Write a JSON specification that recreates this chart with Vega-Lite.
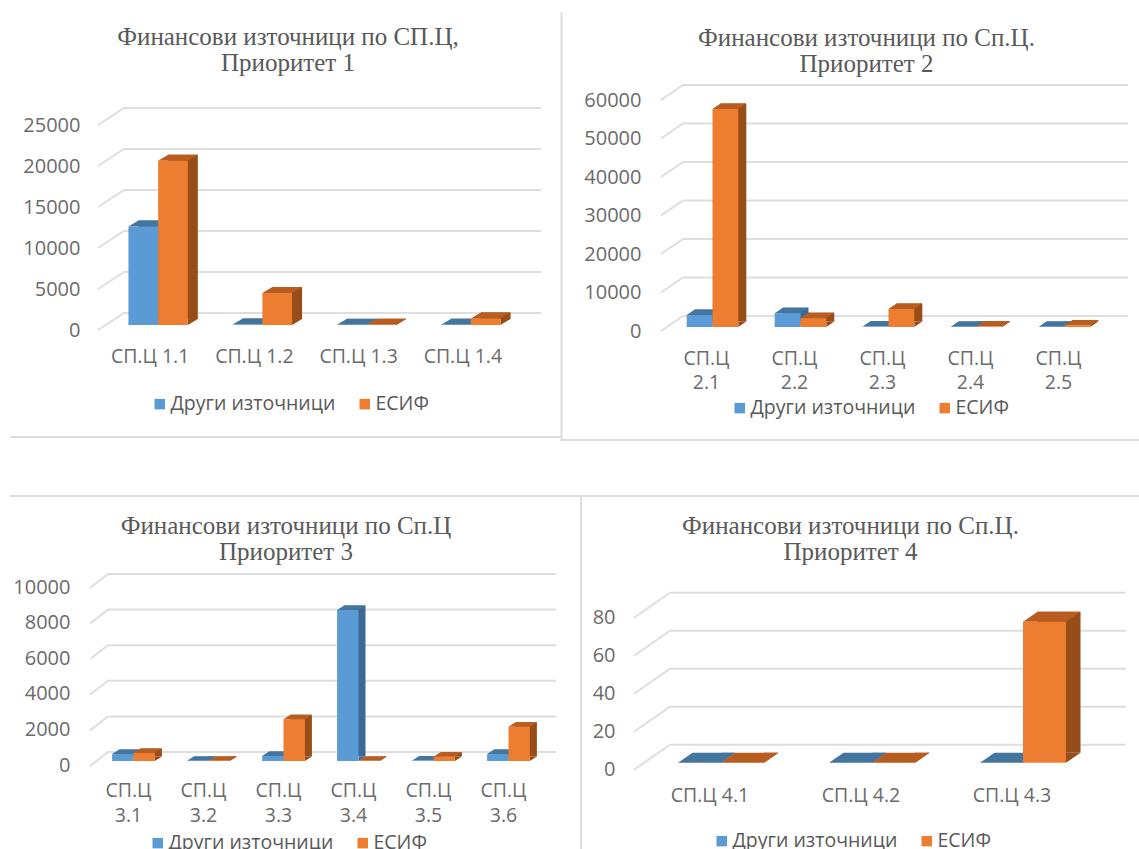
{"$schema":"https://vega.github.io/schema/vega-lite/v6.json","background":"white","padding":{"left":6,"top":8,"right":0,"bottom":0},"autosize":{"type":"pad"},"bounds":"flush","align":"all","columns":2,"spacing":{"column":86,"row":240},"resolve":{"scale":{"color":"independent"},"legend":{"color":"independent"}},"config":{"view":{"stroke":null},"font":"Open Sans","legend":{"orient":"none","columns":2,"direction":"horizontal","title":null,"symbolType":"square","symbolSize":110,"symbolOpacity":1,"labelFont":"Open Sans","labelFontSize":19.5,"labelColor":"#595959","columnPadding":19,"labelOffset":1,"labelLimit":400},"axis":{"domain":false,"ticks":false,"grid":false,"labelFont":"Open Sans","labelColor":"#6b6b6b","title":null,"labelOverlap":false}},
"concat":[
{"width":450,"height":240,"title":{"text":["Финансови източници по СП.Ц,","Приоритет 1"],"anchor":"middle","frame":"group","dx":-33,"offset":14,"font":"Liberation Serif","fontSize":25,"fontWeight":"normal","color":"#595959","lineHeight":26},
"layer":[
{"data":{"values":[{"tick":0},{"tick":5000},{"tick":10000},{"tick":15000},{"tick":20000},{"tick":25000}]},"mark":{"type":"point","shape":"M -223 5 L -197 -12 L 220 -12","size":4,"filled":false,"color":"#dedede","strokeWidth":2,"opacity":1},"encoding":{"y":{"field":"tick","type":"quantitative","title":null,"scale":{"domain":[0,25000],"range":[235,30],"nice":false},"axis":{"values":[0,5000,10000,15000,20000,25000],"labelFontSize":20,"labelPadding":16,"labelOffset":5,"format":"d","labelOverlap":false}}}},
{"data":{"values":[{"sp":"СП.Ц 1.1","source":"Други източници","value":12000},{"sp":"СП.Ц 1.1","source":"ЕСИФ","value":20030},{"sp":"СП.Ц 1.2","source":"Други източници","value":60},{"sp":"СП.Ц 1.2","source":"ЕСИФ","value":3900},{"sp":"СП.Ц 1.3","source":"Други източници","value":20},{"sp":"СП.Ц 1.3","source":"ЕСИФ","value":30},{"sp":"СП.Ц 1.4","source":"Други източници","value":40},{"sp":"СП.Ц 1.4","source":"ЕСИФ","value":800}]},
"encoding":{"x":{"field":"sp","type":"nominal","title":null,"scale":{"range":[10,427],"paddingInner":0,"paddingOuter":0},"axis":{"labelAngle":0,"labelFontSize":19.5,"labelPadding":17,"labelOffset":-8}},"y":{"field":"value","type":"quantitative","stack":null,"title":null,"axis":{"values":[0,5000,10000,15000,20000,25000],"labelFontSize":20,"labelPadding":16,"labelOffset":5,"format":"d","labelOverlap":false}}},
"layer":[
{"transform":[{"filter":"datum.source==='Други източници'"}],"layer":[
{"mark":{"type":"bar","width":29.7,"xOffset":-4.85,"yOffset":-6,"y2Offset":-6,"color":"#3c6a94"},"encoding":{"y2":{"datum":0}}},
{"mark":{"type":"point","xOffset":-14.85,"shape":"M 14.85 0 L 24.85 -6 L 14.85 -6 Z","size":4,"filled":true,"strokeWidth":0,"opacity":1,"color":"#3c6a94"},"encoding":{"y":{"datum":0}}},
{"mark":{"type":"point","xOffset":-14.85,"shape":"M -14.85 0 L 14.85 0 L 24.85 -6 L -4.85 -6 Z","size":4,"filled":true,"strokeWidth":0,"opacity":1,"color":"#44759f"}},
{"mark":{"type":"bar","width":29.7,"xOffset":-14.85},"encoding":{"color":{"field":"source","type":"nominal","scale":{"domain":["Други източници","ЕСИФ"],"range":["#5b9bd5","#ed7d31"]},"legend":{"legendX":54,"legendY":304}}}}
]},
{"transform":[{"filter":"datum.source==='ЕСИФ'"}],"layer":[
{"mark":{"type":"bar","width":29.7,"xOffset":24.85,"yOffset":-6,"y2Offset":-6,"color":"#974d18"},"encoding":{"y2":{"datum":0}}},
{"mark":{"type":"point","xOffset":14.85,"shape":"M 14.85 0 L 24.85 -6 L 14.85 -6 Z","size":4,"filled":true,"strokeWidth":0,"opacity":1,"color":"#974d18"},"encoding":{"y":{"datum":0}}},
{"mark":{"type":"point","xOffset":14.85,"shape":"M -14.85 0 L 14.85 0 L 24.85 -6 L -4.85 -6 Z","size":4,"filled":true,"strokeWidth":0,"opacity":1,"color":"#b85c20"}},
{"mark":{"type":"bar","width":29.7,"xOffset":14.85},"encoding":{"color":{"field":"source","type":"nominal"}}}
]}
]},
{"data":{"values":[{"f":1}]},"mark":{"type":"point","shape":"M -311 227 L 240 227","size":4,"filled":false,"color":"#dedede","strokeWidth":2,"opacity":1},"encoding":{}}
]},
{"width":463,"height":240,"title":{"text":["Финансови източници по Сп.Ц.","Приоритет 2"],"anchor":"middle","frame":"group","dx":-10,"offset":-69,"font":"Liberation Serif","fontSize":25,"fontWeight":"normal","color":"#595959","lineHeight":26},
"layer":[
{"data":{"values":[{"tick":0},{"tick":10000},{"tick":20000},{"tick":30000},{"tick":40000},{"tick":50000},{"tick":60000}]},"mark":{"type":"point","shape":"M -215.5 4 L -193.5 -11 L 251.5 -11","size":4,"filled":false,"color":"#dedede","strokeWidth":2,"opacity":1},"encoding":{"y":{"field":"tick","type":"quantitative","title":null,"scale":{"domain":[0,60000],"range":[237,6],"nice":false},"axis":{"values":[0,10000,20000,30000,40000,50000,60000],"labelFontSize":20,"labelPadding":4,"labelOffset":4,"format":"d","labelOverlap":false}}}},
{"data":{"values":[{"sp":"СП.Ц 2.1","source":"Други източници","value":3100},{"sp":"СП.Ц 2.1","source":"ЕСИФ","value":56600},{"sp":"СП.Ц 2.2","source":"Други източници","value":3600},{"sp":"СП.Ц 2.2","source":"ЕСИФ","value":2300},{"sp":"СП.Ц 2.3","source":"Други източници","value":100},{"sp":"СП.Ц 2.3","source":"ЕСИФ","value":4700},{"sp":"СП.Ц 2.4","source":"Други източници","value":50},{"sp":"СП.Ц 2.4","source":"ЕСИФ","value":100},{"sp":"СП.Ц 2.5","source":"Други източници","value":50},{"sp":"СП.Ц 2.5","source":"ЕСИФ","value":400}]},
"encoding":{"x":{"field":"sp","type":"nominal","title":null,"scale":{"range":[23.5,463.5],"paddingInner":0,"paddingOuter":0},"axis":{"labelAngle":0,"labelFontSize":19.5,"labelPadding":19,"labelOffset":-6,"labelLineHeight":24,"labelExpr":"split(datum.label,' ')"}},"y":{"field":"value","type":"quantitative","stack":null,"title":null,"axis":{"values":[0,10000,20000,30000,40000,50000,60000],"labelFontSize":20,"labelPadding":4,"labelOffset":4,"format":"d","labelOverlap":false}}},
"layer":[
{"transform":[{"filter":"datum.source==='Други източници'"}],"layer":[
{"mark":{"type":"bar","width":25.8,"xOffset":-4.9,"yOffset":-5.5,"y2Offset":-5.5,"color":"#3c6a94"},"encoding":{"y2":{"datum":0}}},
{"mark":{"type":"point","xOffset":-12.9,"shape":"M 12.9 0 L 20.9 -5.5 L 12.9 -5.5 Z","size":4,"filled":true,"strokeWidth":0,"opacity":1,"color":"#3c6a94"},"encoding":{"y":{"datum":0}}},
{"mark":{"type":"point","xOffset":-12.9,"shape":"M -12.9 0 L 12.9 0 L 20.9 -5.5 L -4.9 -5.5 Z","size":4,"filled":true,"strokeWidth":0,"opacity":1,"color":"#44759f"}},
{"mark":{"type":"bar","width":25.8,"xOffset":-12.9},"encoding":{"color":{"field":"source","type":"nominal","scale":{"domain":["Други източници","ЕСИФ"],"range":["#5b9bd5","#ed7d31"]},"legend":{"legendX":85,"legendY":308}}}}
]},
{"transform":[{"filter":"datum.source==='ЕСИФ'"}],"layer":[
{"mark":{"type":"bar","width":25.8,"xOffset":20.9,"yOffset":-5.5,"y2Offset":-5.5,"color":"#974d18"},"encoding":{"y2":{"datum":0}}},
{"mark":{"type":"point","xOffset":12.9,"shape":"M 12.9 0 L 20.9 -5.5 L 12.9 -5.5 Z","size":4,"filled":true,"strokeWidth":0,"opacity":1,"color":"#974d18"},"encoding":{"y":{"datum":0}}},
{"mark":{"type":"point","xOffset":12.9,"shape":"M -12.9 0 L 12.9 0 L 20.9 -5.5 L -4.9 -5.5 Z","size":4,"filled":true,"strokeWidth":0,"opacity":1,"color":"#b85c20"}},
{"mark":{"type":"bar","width":25.8,"xOffset":12.9},"encoding":{"color":{"field":"source","type":"nominal"}}}
]}
]},
{"data":{"values":[{"f":1}]},"mark":{"type":"point","shape":"M -315 -198 L -315 230 L 262.5 230","size":4,"filled":false,"color":"#dedede","strokeWidth":2,"opacity":1},"encoding":{}}
]},
{"width":450,"height":200,"title":{"text":["Финансови източници по Сп.Ц","Приоритет 3"],"anchor":"middle","frame":"group","dx":-35,"offset":-73,"font":"Liberation Serif","fontSize":25,"fontWeight":"normal","color":"#595959","lineHeight":26},
"layer":[
{"data":{"values":[{"tick":0},{"tick":2000},{"tick":4000},{"tick":6000},{"tick":8000},{"tick":10000}]},"mark":{"type":"point","shape":"M -231 5 L -213 -9 L 235 -9","size":4,"filled":false,"color":"#dedede","strokeWidth":2,"opacity":1},"encoding":{"y":{"field":"tick","type":"quantitative","title":null,"scale":{"domain":[0,10000],"range":[191,13],"nice":false},"axis":{"values":[0,2000,4000,6000,8000,10000],"labelFontSize":20,"labelPadding":26,"labelOffset":4,"format":"d","labelOverlap":false}}}},
{"data":{"values":[{"sp":"СП.Ц 3.1","source":"Други източници","value":390},{"sp":"СП.Ц 3.1","source":"ЕСИФ","value":450},{"sp":"СП.Ц 3.2","source":"Други източници","value":10},{"sp":"СП.Ц 3.2","source":"ЕСИФ","value":10},{"sp":"СП.Ц 3.3","source":"Други източници","value":280},{"sp":"СП.Ц 3.3","source":"ЕСИФ","value":2350},{"sp":"СП.Ц 3.4","source":"Други източници","value":8480},{"sp":"СП.Ц 3.4","source":"ЕСИФ","value":10},{"sp":"СП.Ц 3.5","source":"Други източници","value":30},{"sp":"СП.Ц 3.5","source":"ЕСИФ","value":240},{"sp":"СП.Ц 3.6","source":"Други източници","value":390},{"sp":"СП.Ц 3.6","source":"ЕСИФ","value":1930}]},
"encoding":{"x":{"field":"sp","type":"nominal","title":null,"scale":{"range":[0,450],"paddingInner":0,"paddingOuter":0},"axis":{"labelAngle":0,"labelFontSize":19.5,"labelPadding":11,"labelOffset":-5,"labelLineHeight":25,"labelExpr":"split(datum.label,' ')"}},"y":{"field":"value","type":"quantitative","stack":null,"title":null,"axis":{"values":[0,2000,4000,6000,8000,10000],"labelFontSize":20,"labelPadding":26,"labelOffset":4,"format":"d","labelOverlap":false}}},
"layer":[
{"transform":[{"filter":"datum.source==='Други източници'"}],"layer":[
{"mark":{"type":"bar","width":21.4,"xOffset":-3.7,"yOffset":-4.5,"y2Offset":-4.5,"color":"#3c6a94"},"encoding":{"y2":{"datum":0}}},
{"mark":{"type":"point","xOffset":-10.7,"shape":"M 10.7 0 L 17.7 -4.5 L 10.7 -4.5 Z","size":4,"filled":true,"strokeWidth":0,"opacity":1,"color":"#3c6a94"},"encoding":{"y":{"datum":0}}},
{"mark":{"type":"point","xOffset":-10.7,"shape":"M -10.7 0 L 10.7 0 L 17.7 -4.5 L -3.7 -4.5 Z","size":4,"filled":true,"strokeWidth":0,"opacity":1,"color":"#44759f"}},
{"mark":{"type":"bar","width":21.4,"xOffset":-10.7},"encoding":{"color":{"field":"source","type":"nominal","scale":{"domain":["Други източници","ЕСИФ"],"range":["#5b9bd5","#ed7d31"]},"legend":{"legendX":52,"legendY":263}}}}
]},
{"transform":[{"filter":"datum.source==='ЕСИФ'"}],"layer":[
{"mark":{"type":"bar","width":21.4,"xOffset":17.7,"yOffset":-4.5,"y2Offset":-4.5,"color":"#974d18"},"encoding":{"y2":{"datum":0}}},
{"mark":{"type":"point","xOffset":10.7,"shape":"M 10.7 0 L 17.7 -4.5 L 10.7 -4.5 Z","size":4,"filled":true,"strokeWidth":0,"opacity":1,"color":"#974d18"},"encoding":{"y":{"datum":0}}},
{"mark":{"type":"point","xOffset":10.7,"shape":"M -10.7 0 L 10.7 0 L 17.7 -4.5 L -3.7 -4.5 Z","size":4,"filled":true,"strokeWidth":0,"opacity":1,"color":"#b85c20"}},
{"mark":{"type":"bar","width":21.4,"xOffset":10.7},"encoding":{"color":{"field":"source","type":"nominal"}}}
]}
]},
{"data":{"values":[{"f":1}]},"mark":{"type":"point","shape":"M -311 -174 L 818 -174 M 260 -174 L 260 179","size":4,"filled":false,"color":"#dedede","strokeWidth":2,"opacity":1},"encoding":{}}
]},
{"width":463,"height":200,"title":{"text":["Финансови източници по Сп.Ц.","Приоритет 4"],"anchor":"middle","frame":"group","dx":-26,"offset":5,"font":"Liberation Serif","fontSize":25,"fontWeight":"normal","color":"#595959","lineHeight":26},
"layer":[
{"data":{"values":[{"tick":0},{"tick":20},{"tick":40},{"tick":60},{"tick":80}]},"mark":{"type":"point","shape":"M -242.5 7 L -206.5 -18 L 249 -18","size":4,"filled":false,"color":"#dedede","strokeWidth":2,"opacity":1},"encoding":{"y":{"field":"tick","type":"quantitative","title":null,"scale":{"domain":[0,80],"range":[192.7,40.7],"nice":false},"axis":{"values":[0,20,40,60,80],"labelFontSize":20,"labelPadding":30,"labelOffset":7,"format":"d","labelOverlap":false}}}},
{"data":{"values":[{"sp":"СП.Ц 4.1","source":"Други източници","value":0},{"sp":"СП.Ц 4.1","source":"ЕСИФ","value":0},{"sp":"СП.Ц 4.2","source":"Други източници","value":0},{"sp":"СП.Ц 4.2","source":"ЕСИФ","value":0},{"sp":"СП.Ц 4.3","source":"Други източници","value":0},{"sp":"СП.Ц 4.3","source":"ЕСИФ","value":74.2}]},
"encoding":{"x":{"field":"sp","type":"nominal","title":null,"scale":{"range":[0.5,453.5],"paddingInner":0,"paddingOuter":0},"axis":{"labelAngle":0,"labelFontSize":19.5,"labelPadding":16,"labelOffset":-11}},"y":{"field":"value","type":"quantitative","stack":null,"title":null,"axis":{"values":[0,20,40,60,80],"labelFontSize":20,"labelPadding":30,"labelOffset":7,"format":"d","labelOverlap":false}}},
"layer":[
{"transform":[{"filter":"datum.source==='Други източници'"}],"layer":[
{"mark":{"type":"bar","width":43,"xOffset":-7,"yOffset":-10,"y2Offset":-10,"color":"#3c6a94"},"encoding":{"y2":{"datum":0}}},
{"mark":{"type":"point","xOffset":-21.5,"shape":"M 21.5 0 L 36 -10 L 21.5 -10 Z","size":4,"filled":true,"strokeWidth":0,"opacity":1,"color":"#3c6a94"},"encoding":{"y":{"datum":0}}},
{"mark":{"type":"point","xOffset":-21.5,"shape":"M -21.5 0 L 21.5 0 L 36 -10 L -7 -10 Z","size":4,"filled":true,"strokeWidth":0,"opacity":1,"color":"#44759f"}},
{"mark":{"type":"bar","width":43,"xOffset":-21.5},"encoding":{"color":{"field":"source","type":"nominal","scale":{"domain":["Други източници","ЕСИФ"],"range":["#5b9bd5","#ed7d31"]},"legend":{"legendX":67,"legendY":261}}}}
]},
{"transform":[{"filter":"datum.source==='ЕСИФ'"}],"layer":[
{"mark":{"type":"bar","width":43,"xOffset":36,"yOffset":-10,"y2Offset":-10,"color":"#974d18"},"encoding":{"y2":{"datum":0}}},
{"mark":{"type":"point","xOffset":21.5,"shape":"M 21.5 0 L 36 -10 L 21.5 -10 Z","size":4,"filled":true,"strokeWidth":0,"opacity":1,"color":"#974d18"},"encoding":{"y":{"datum":0}}},
{"mark":{"type":"point","xOffset":21.5,"shape":"M -21.5 0 L 21.5 0 L 36 -10 L -7 -10 Z","size":4,"filled":true,"strokeWidth":0,"opacity":1,"color":"#b85c20"}},
{"mark":{"type":"bar","width":43,"xOffset":21.5},"encoding":{"color":{"field":"source","type":"nominal"}}}
]}
]}
]}
]}
